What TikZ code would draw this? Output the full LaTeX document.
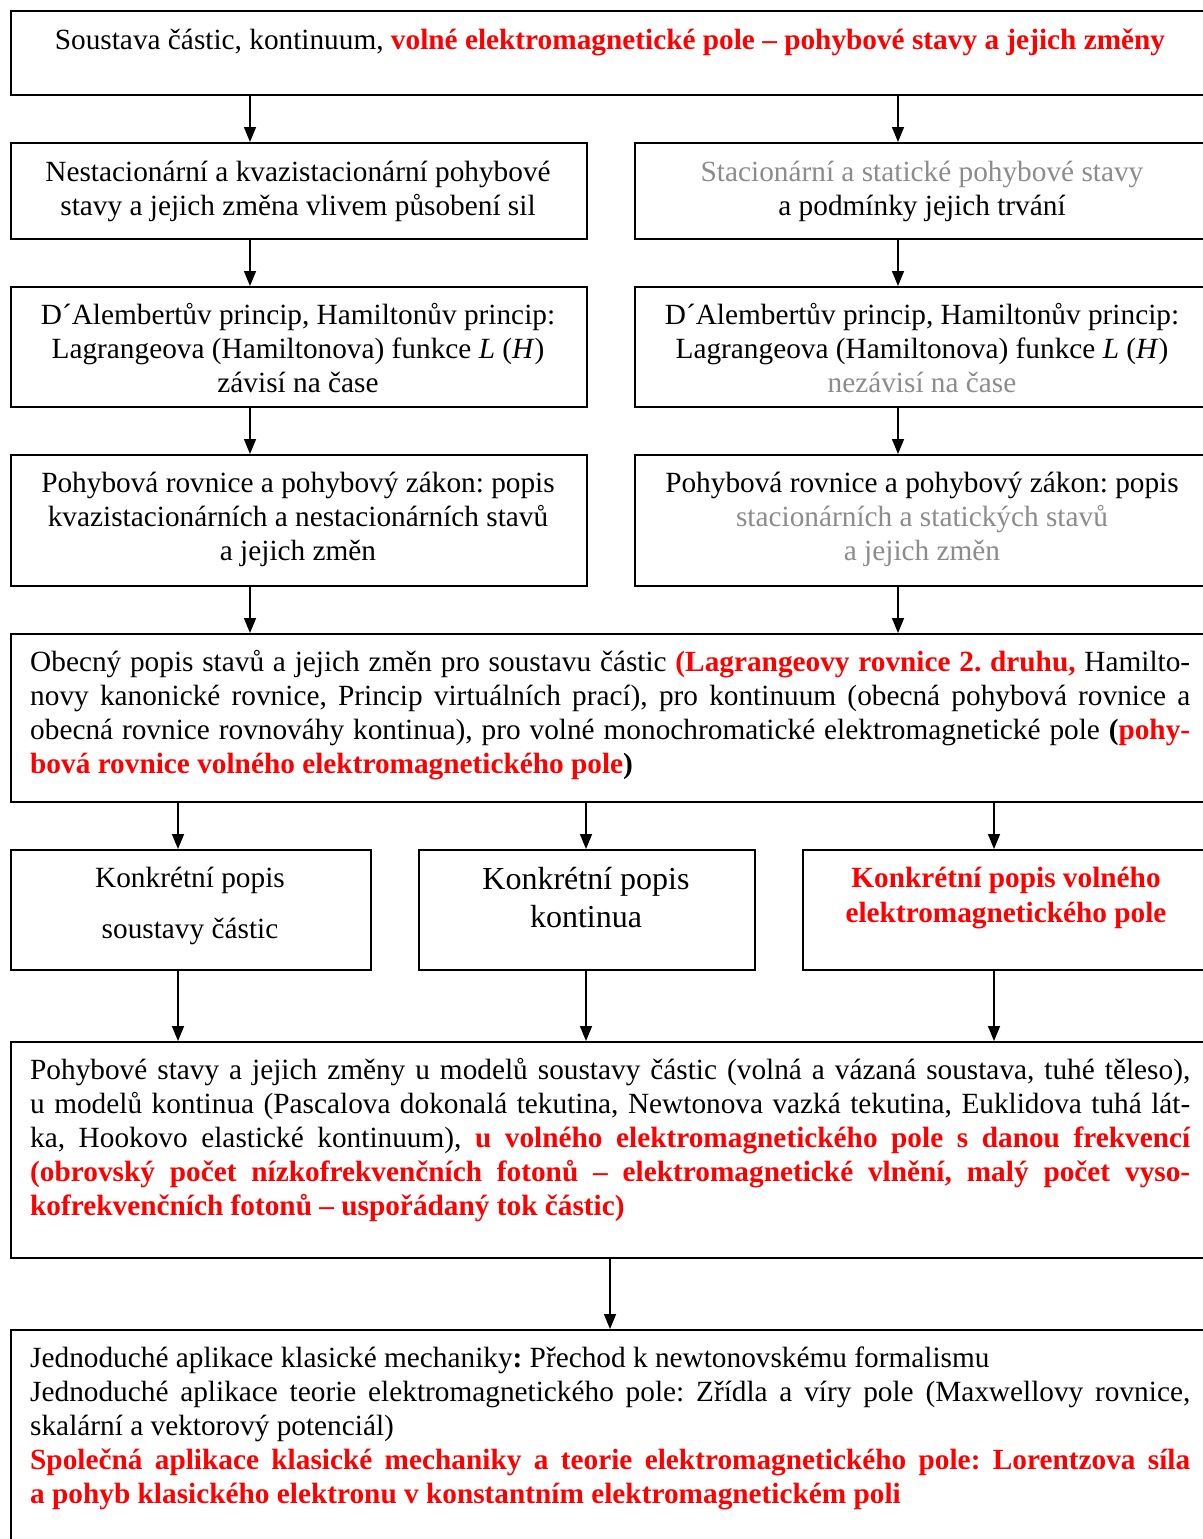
\documentclass[tikz,border=0pt]{standalone}
\usepackage{fontspec}
\setmainfont{Liberation Serif}
\usetikzlibrary{arrows.meta}
\definecolor{hl}{RGB}{255,0,0}
\definecolor{dim}{RGB}{140,140,140}
\newcommand{\redb}[1]{\textcolor{hl}{\textbf{#1}}}
\newcommand{\lnstrut}{\rule{0pt}{28pt}}
\frenchspacing

\begin{document}
\begin{tikzpicture}[x=1pt,y=-1pt,
  cbox/.style={draw, line width=2pt, anchor=north west, inner sep=0pt},
  ctxt/.style={anchor=north, inner sep=0pt, align=center,
    font=\fontsize{29.3}{34}\selectfont},
  jtxt/.style={anchor=north west, inner sep=0pt, text width=1160pt, align=justify,
    font=\fontsize{29.3}{34}\selectfont,
    execute at begin node={\hyphenpenalty=10000\parindent=0pt\frenchspacing}},
  arr/.style={line width=1.5pt, -{Triangle[length=15pt,width=12pt]}}]

\useasboundingbox (0,0) rectangle (1202,1539);
\fill[white] (0,0) rectangle (1202,1539);

% frames
\node[cbox, minimum width=1200pt, minimum height=84pt] (top) at (10,10) {};
\node[cbox, minimum width=576pt, minimum height=96pt] (l2) at (10,142) {};
\node[cbox, minimum width=576pt, minimum height=96pt] (r2) at (634,142) {};
\node[cbox, minimum width=576pt, minimum height=120pt] (l3) at (10,286) {};
\node[cbox, minimum width=576pt, minimum height=120pt] (r3) at (634,286) {};
\node[cbox, minimum width=576pt, minimum height=131pt] (l4) at (10,454) {};
\node[cbox, minimum width=576pt, minimum height=131pt] (r4) at (634,454) {};
\node[cbox, minimum width=1200pt, minimum height=168pt] (gen) at (10,633) {};
\node[cbox, minimum width=360pt, minimum height=120pt] (c1) at (10,849) {};
\node[cbox, minimum width=336pt, minimum height=120pt] (c2) at (418,849) {};
\node[cbox, minimum width=408pt, minimum height=120pt] (c3) at (802,849) {};
\node[cbox, minimum width=1200pt, minimum height=216pt] (mod) at (10,1041) {};
\node[cbox, minimum width=1200pt, minimum height=240pt] (app) at (10,1329) {};

% texts
\node[ctxt] (ttop) at (610,21) {\lnstrut Soustava částic, kontinuum, \redb{volné elektromagnetické pole – pohybové stavy a jejich změny}};
\node[ctxt] (tl2) at (298,153) {\lnstrut Nestacionární a kvazistacionární pohybové\\stavy a jejich změna vlivem působení sil};
\node[ctxt] (tr2) at (922,153) {\lnstrut\textcolor{dim}{Stacionární a statické pohybové stavy}\\a podmínky jejich trvání};
\node[ctxt] (tl3) at (298,296) {\lnstrut D´Alembertův princip, Hamiltonův princip:\\Lagrangeova (Hamiltonova) funkce \textit{L} (\textit{H})\\závisí na čase};
\node[ctxt] (tr3) at (922,296) {\lnstrut D´Alembertův princip, Hamiltonův princip:\\Lagrangeova (Hamiltonova) funkce \textit{L} (\textit{H})\\\textcolor{dim}{nezávisí na čase}};
\node[ctxt] (tl4) at (298,464) {\lnstrut Pohybová rovnice a pohybový zákon: popis\\kvazistacionárních a nestacionárních stavů\\a jejich změn};
\node[ctxt] (tr4) at (922,464) {\lnstrut Pohybová rovnice a pohybový zákon: popis\\\textcolor{dim}{stacionárních a statických stavů}\\\textcolor{dim}{a jejich změn}};

\node[jtxt] (tgen) at (30,643) {\lnstrut Obecný popis stavů a jejich změn pro soustavu částic \redb{(Lagrangeovy rovnice 2.~druhu,} Hamilto-\linebreak novy kanonické rovnice, Princip virtuálních prací), pro kontinuum (obecná pohybová rovnice a\linebreak obecná rovnice rovnováhy kontinua), pro volné monochromatické elektromagnetické pole \textbf{(}\redb{pohy-\linebreak bová rovnice volného elektromagnetického pole}\textbf{)}};

\node[ctxt] (tc1) at (190,859) {\lnstrut Konkrétní popis\\[17pt]soustavy částic};
\node[ctxt, font=\fontsize{32}{38}\selectfont] (tc2) at (586,861) {\lnstrut Konkrétní popis\\kontinua};
\node[ctxt, font=\fontsize{29.3}{35}\selectfont] (tc3) at (1006,859) {\lnstrut\redb{Konkrétní popis volného}\\\redb{elektromagnetického pole}};

\node[jtxt] (tmod) at (30,1051) {\lnstrut Pohybové stavy a jejich změny u modelů soustavy částic (volná a vázaná soustava, tuhé těleso),\linebreak u modelů kontinua (Pascalova dokonalá tekutina, Newtonova vazká tekutina, Euklidova tuhá lát-\linebreak ka, Hookovo elastické kontinuum), \redb{u volného elektromagnetického pole s~danou frekvencí\linebreak (obrovský počet nízkofrekvenčních fotonů – elektromagnetické vlnění, malý počet vyso-\linebreak kofrekvenčních fotonů – uspořádaný tok částic)}};

\node[jtxt] (tapp) at (30,1339) {\lnstrut Jednoduché aplikace klasické mechaniky\textbf{:} Přechod k newtonovskému formalismu\par
Jednoduché aplikace teorie elektromagnetického pole: Zřídla a víry pole (Maxwellovy rovnice,\linebreak skalární a vektorový potenciál)\par
\redb{Společná aplikace klasické mechaniky a teorie elektromagnetického pole: Lorentzova síla\linebreak a pohyb klasického elektronu v konstantním elektromagnetickém poli}};

% connector columns
\coordinate (xa) at (250,0);
\coordinate (xb) at (898,0);
\coordinate (xc) at (178,0);
\coordinate (xd) at (586,0);
\coordinate (xe) at (994,0);
\coordinate (xf) at (610,0);

\draw[arr] (top.south -| xa) -- (l2.north -| xa);
\draw[arr] (top.south -| xb) -- (r2.north -| xb);
\draw[arr] (l2.south -| xa) -- (l3.north -| xa);
\draw[arr] (r2.south -| xb) -- (r3.north -| xb);
\draw[arr] (l3.south -| xa) -- (l4.north -| xa);
\draw[arr] (r3.south -| xb) -- (r4.north -| xb);
\draw[arr] (l4.south -| xa) -- (gen.north -| xa);
\draw[arr] (r4.south -| xb) -- (gen.north -| xb);
\draw[arr] (gen.south -| xc) -- (c1.north -| xc);
\draw[arr] (gen.south -| xd) -- (c2.north -| xd);
\draw[arr] (gen.south -| xe) -- (c3.north -| xe);
\draw[arr] (c1.south -| xc) -- (mod.north -| xc);
\draw[arr] (c2.south -| xd) -- (mod.north -| xd);
\draw[arr] (c3.south -| xe) -- (mod.north -| xe);
\draw[arr] (mod.south -| xf) -- (app.north -| xf);
\end{tikzpicture}
\end{document}
